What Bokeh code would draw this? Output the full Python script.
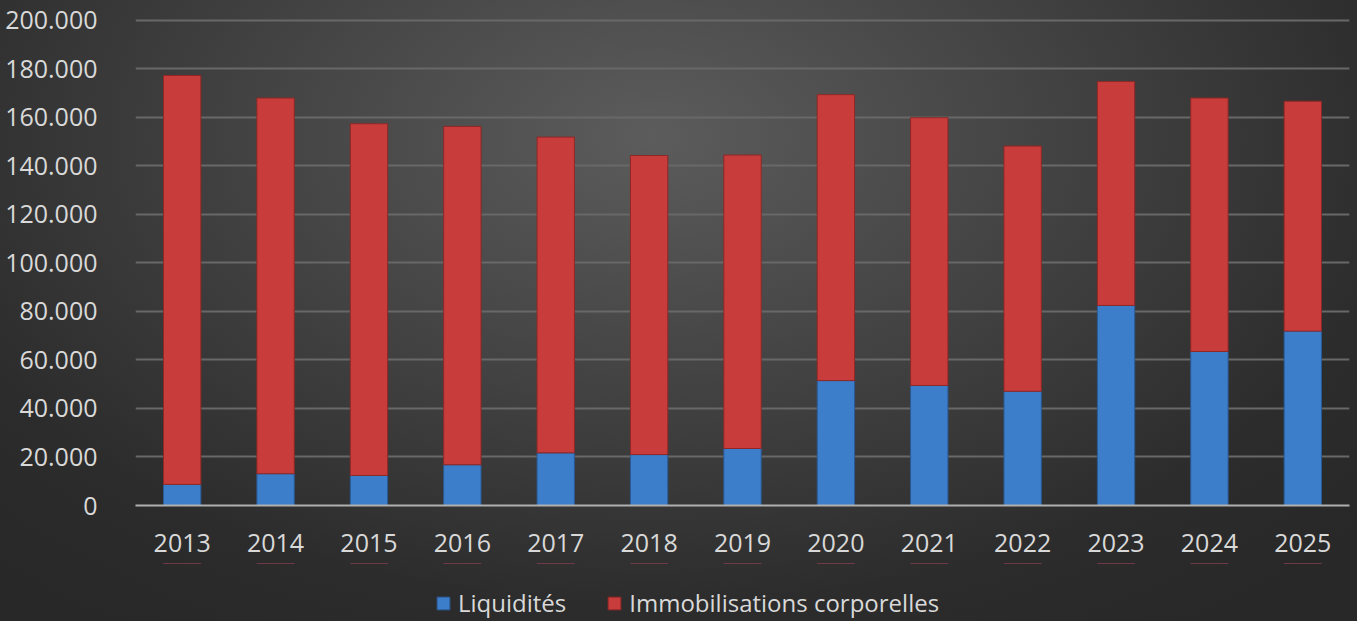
from bokeh.plotting import figure
from bokeh.layouts import column
from bokeh.models import FactorRange, Range1d, Legend, LegendItem, InlineStyleSheet, FixedTicker
from bokeh.embed import file_html
from bokeh.resources import INLINE

years = ["2013", "2014", "2015", "2016", "2017", "2018", "2019",
         "2020", "2021", "2022", "2023", "2024", "2025"]
liquidites = [8700, 13100, 12400, 16800, 21700, 21000, 23500,
              51500, 49500, 47100, 82500, 63500, 71900]
immobilisations = [168600, 154900, 145000, 139500, 130200, 123300, 121000,
                   117900, 110400, 101100, 92300, 104500, 94800]
series_names = ["Liquidités", "Immobilisations corporelles"]
series_colors = ["#3d7ecb", "#c83d3b"]
series_edges = ["#2a5a94", "#8e2826"]
y_ticks = [0, 20000, 40000, 60000, 80000, 100000, 120000, 140000, 160000, 180000, 200000]
y_tick_labels = ["0", "20.000", "40.000", "60.000", "80.000", "100.000", "120.000",
                 "140.000", "160.000", "180.000", "200.000"]

FONT = "Open Sans"
TXT = "#d9d9d9"

data = dict(years=years, liq=liquidites, immo=immobilisations)

p = figure(x_range=FactorRange(*years, range_padding=0), y_range=Range1d(0, 200800),
           width=1357, height=563, output_backend="svg",
           toolbar_location=None, min_border_left=135, min_border_top=18,
           min_border_right=8, min_border_bottom=58)
p.x_range.factor_padding = 0
p.background_fill_alpha = 0
p.border_fill_alpha = 0
p.outline_line_alpha = 0

r = p.vbar_stack(["liq", "immo"], x="years", width=0.4, source=data,
                 fill_color=series_colors, line_color=series_edges, line_width=1)

p.xgrid.grid_line_color = None
p.ygrid.grid_line_color = "#686868"
p.ygrid.grid_line_width = 2
p.ygrid.ticker = FixedTicker(ticks=y_ticks[1:])

p.yaxis.ticker = FixedTicker(ticks=y_ticks)
p.yaxis.major_label_overrides = {t: l for t, l in zip(y_ticks, y_tick_labels)}
p.yaxis.axis_line_color = None
p.yaxis.major_tick_line_color = None
p.yaxis.minor_tick_line_color = None
p.yaxis.major_label_standoff = 32
p.yaxis.major_label_text_font = FONT
p.yaxis.major_label_text_font_size = "25px"
p.yaxis.major_label_text_color = TXT

p.xaxis.axis_line_color = "#b0b0b0"
p.xaxis.axis_line_width = 2
p.xaxis.major_tick_line_color = None
p.xaxis.minor_tick_line_color = None
p.xaxis.major_label_standoff = 22
p.xaxis.major_label_text_font = FONT
p.xaxis.major_label_text_font_size = "25px"
p.xaxis.major_label_text_color = TXT

# legend strip below the chart (its bars lie outside its view; only the legend shows)
lg = figure(width=1357, height=58, output_backend="svg", toolbar_location=None,
            x_range=FactorRange(*years), y_range=Range1d(-2, -1),
            x_axis_type=None, y_axis_type=None, min_border=0)
lg.background_fill_alpha = 0
lg.border_fill_alpha = 0
lg.outline_line_alpha = 0
lg.grid.grid_line_color = None
lr = lg.vbar_stack(["liq", "immo"], x="years", width=0.4, source=data,
                   fill_color=series_colors, line_color=series_edges, line_width=1)
legend = Legend(items=[LegendItem(label=n, renderers=[g]) for n, g in zip(series_names, lr)],
                orientation="horizontal", location=(298, 0),
                label_text_font=FONT, label_text_font_size="24px", label_text_color=TXT,
                glyph_width=16, glyph_height=16, spacing=40, label_standoff=7,
                label_height=16, background_fill_alpha=0, border_line_alpha=0,
                padding=2, margin=0)
lg.add_layout(legend, "center")

layout = column(p, lg, spacing=0)
layout.stylesheets = [InlineStyleSheet(css=":host { background: radial-gradient(ellipse 70% 95% at 48% 22%, #5c5c5c 0%, #474747 35%, #2c2c2c 80%, #282828 100%); }")]

open("out.html", "w").write(file_html(layout, INLINE))
